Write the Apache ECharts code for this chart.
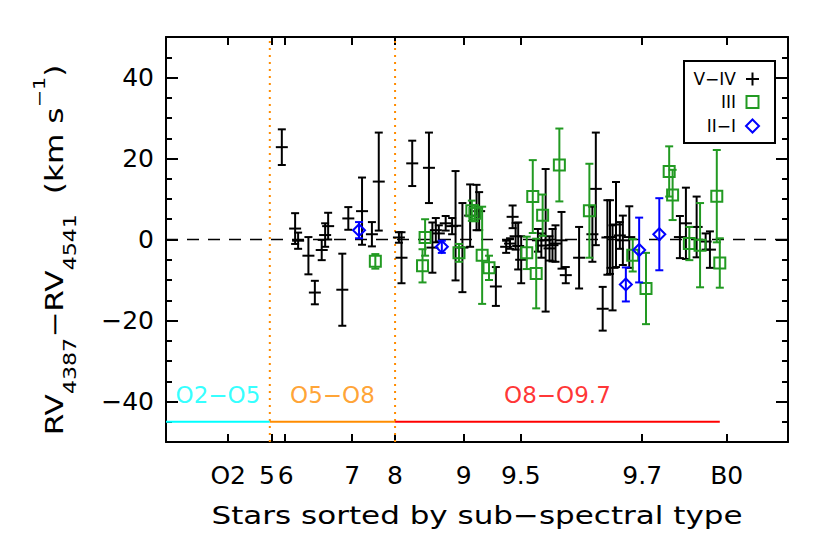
<!DOCTYPE html>
<html><head><meta charset="utf-8">
<script src="https://cdn.jsdelivr.net/npm/echarts@6/dist/echarts.min.js"></script>
<style>html,body{margin:0;padding:0;background:#fff}#c{width:830px;height:553px}</style>
</head><body><div id="c"></div>
<script>
// ---- axis / annotation data ----
const xMin = 0, xMax = 145;
const yMin = -50, yMax = 50;
const xTickValues = [14.5, 24.6, 27.7, 43.4, 53.4, 69.4, 82.7, 111.0, 130.7];
const xTickLabels = ['O2', '5', '6', '7', '8', '9', '9.5', '9.7', 'B0'];
const yTickValues = [-40, -20, 0, 20, 40];
const yMinorValues = [-50,-45,-40,-35,-30,-25,-20,-15,-10,-5,0,5,10,15,20,25,30,35,40,45,50];
const boundaries = [24.2, 53.4];
const rangeNames = ['O2−O5', 'O5−O8', 'O8−O9.7'];
const rangeStart = [0, 24.2, 53.4];
const rangeEnd = [24.2, 53.4, 129.1];
const rangeColors = ['#00ffff', '#ff8c00', '#ff0000'];
const rangeLineY = -45;
const rangeLabelY = -38.3;

// ---- V-IV stars (black +) ----
const vX   = [27.0,30.1,30.8,33.2,34.7,36.3,37.1,37.8,41.1,42.5,45.7,48.0,49.6,54.3,54.9,57.4,61.3,62.1,62.9,63.6,65.2,66.7,67.5,69.1,70.9,72.4,73.0,76.9,79.3,80.2,80.8,81.5,82.1,82.8,86.7,87.5,88.5,89.4,90.1,90.8,92.2,93.2,96.3,99.4,100.2,101.8,102.9,103.5,104.1,104.9,105.8,106.5,108.0,119.8,121.2,123.7,125.8,126.8];
const vY   = [22.8,2.7,-0.3,-4.0,-13.1,-2.6,1.1,3.3,-12.4,5.2,7.0,1.3,14.3,0.5,-4.5,18.8,17.7,-2.0,2.3,1.5,4.0,3.3,3.4,-2.0,5.9,7.9,7.0,-11.6,-1.8,-1.0,5.6,0.8,-1.6,-5.0,-0.2,-1.5,-0.2,-2.2,-1.4,-1.0,-0.2,-8.8,-4.5,1.3,12.5,-17.1,0.5,0.6,-7.0,3.7,1.0,-0.2,0.6,0.6,4.0,3.1,-0.5,-2.5];
const vErr = [4.4,3.8,2.0,4.6,2.9,2.5,2.9,3.3,8.9,2.8,8.3,3.0,12.1,1.3,6.3,5.6,8.7,6.2,3.0,2.0,1.8,2.0,13.5,11.0,7.7,5.6,4.7,4.8,1.5,1.3,2.8,3.3,5.8,5.8,2.8,3.0,17.6,3.0,4.0,4.5,7.0,2.0,7.6,6.8,13.9,5.4,9.2,9.1,10.5,10.5,3.3,6.1,7.6,5.2,8.8,7.5,2.0,4.5];

// ---- III stars (green squares) ----
const gX   = [48.8,59.8,60.4,68.3,71.3,72.0,73.7,75.3,84.1,85.5,86.3,87.8,91.7,98.7,108.8,111.9,117.3,118.1,122.0,124.5,128.4,129.1];
const gY   = [-5.4,-6.5,0.5,-3.3,7.1,6.5,-3.9,-7.0,-3.3,10.6,-8.4,6.0,18.4,7.1,-3.9,-12.1,16.8,11.0,-1.0,-1.4,10.7,-5.8];
const gErr = [1.8,4.1,4.5,2.2,2.5,2.0,12.0,3.0,4.0,9.0,8.6,5.1,9.0,11.6,4.0,8.8,6.2,6.2,4.1,10.4,11.4,6.1];

// ---- II-I stars (blue diamonds) ----
const bX   = [45.0,64.3,107.2,110.3,115.0];
const bY   = [2.3,-1.8,-11.1,-2.6,1.3];
const bErr = [2.0,1.5,4.2,8.0,8.9];

const FONT = 'DejaVu Sans';
const GREEN = '#229a22', BLUE = '#0000ff';

function errRender(kind, color) {
  return function (params, api) {
    const x = api.value(0), y = api.value(1), e = api.value(2);
    const c = api.coord([x, y]);
    const t = api.coord([x, y + e]);
    const b = api.coord([x, y - e]);
    const cap = 4, lw = 2;
    const st = { stroke: color, lineWidth: lw, fill: null };
    const ch = [
      { type: 'line', shape: { x1: c[0], y1: t[1], x2: c[0], y2: b[1] }, style: st },
      { type: 'line', shape: { x1: c[0] - cap, y1: t[1], x2: c[0] + cap, y2: t[1] }, style: st },
      { type: 'line', shape: { x1: c[0] - cap, y1: b[1], x2: c[0] + cap, y2: b[1] }, style: st }
    ];
    if (kind === 'plus') {
      ch.push({ type: 'line', shape: { x1: c[0] - 6, y1: c[1], x2: c[0] + 6, y2: c[1] }, style: st });
    } else if (kind === 'square') {
      ch.push({ type: 'rect', shape: { x: c[0] - 5.5, y: c[1] - 5.5, width: 11, height: 11 }, style: { stroke: color, lineWidth: lw, fill: 'none' } });
    } else {
      ch.push({ type: 'polygon', shape: { points: [[c[0], c[1] - 6], [c[0] + 6, c[1]], [c[0], c[1] + 6], [c[0] - 6, c[1]]] }, style: { stroke: color, lineWidth: lw, fill: 'none' } });
    }
    return { type: 'group', children: ch };
  };
}

const toData = (xs, ys, es) => xs.map((x, i) => [x, ys[i], es[i]]);

const series = [];
// zero line
series.push({ type: 'line', data: [[xMin, 0], [xMax, 0]], symbol: 'none', silent: true,
  lineStyle: { color: '#000', width: 1.5, type: [12, 9] }, z: 1 });
// boundaries
boundaries.forEach(b => series.push({ type: 'line', data: [[b, yMin], [b, yMax]], symbol: 'none', silent: true,
  lineStyle: { color: '#ff8c00', width: 2, type: [2, 5] }, z: 1 }));
// range segments and labels
rangeNames.forEach((n, i) => {
  series.push({ type: 'line', data: [[rangeStart[i], rangeLineY], [rangeEnd[i], rangeLineY]], symbol: 'none', silent: true,
    lineStyle: { color: rangeColors[i], width: 2, type: 'solid' }, z: 1 });
  series.push({ type: 'scatter', symbolSize: 0, silent: true,
    data: [{ value: [(rangeStart[i] + rangeEnd[i]) / 2, rangeLabelY], name: n }],
    label: { show: true, position: 'inside', formatter: n, color: rangeColors[i], fontSize: 23, fontFamily: FONT } });
});
series.push({ type: 'custom', renderItem: errRender('plus', '#000'), data: toData(vX, vY, vErr), encode: { x: 0, y: 1 }, z: 5 });
series.push({ type: 'custom', renderItem: errRender('square', GREEN), data: toData(gX, gY, gErr), encode: { x: 0, y: 1 }, z: 6 });
series.push({ type: 'custom', renderItem: errRender('diamond', BLUE), data: toData(bX, bY, bErr), encode: { x: 0, y: 1 }, z: 7 });

const axisLineStyle = { color: '#000', width: 2 };
function xAx(pos, labels) {
  return {
    type: 'value', min: xMin, max: xMax, position: pos,
    axisLine: { show: true, onZero: false, lineStyle: axisLineStyle },
    axisTick: { show: true, inside: true, length: 8, lineStyle: { color: '#000', width: 2 }, customValues: xTickValues },
    axisLabel: { show: labels, customValues: xTickValues, hideOverlap: false,
      formatter: v => {
        const i = xTickValues.findIndex(t => Math.abs(t - v) < 1e-6);
        if (i < 0) return '';
        const s = xTickLabels[i];
        if (s === '5') return '{l|' + s + '}';
        if (s === '6') return '{r|' + s + '}';
        return s;
      },
      rich: { l: { fontSize: 25, fontFamily: FONT, padding: [0, 9, 0, 0] }, r: { fontSize: 25, fontFamily: FONT, padding: [0, 0, 0, 2] } },
      fontSize: 25, color: '#000', margin: 21, fontFamily: FONT },
    splitLine: { show: false }
  };
}
function yAx(pos, major, labels) {
  const vals = major ? yTickValues : yMinorValues;
  return {
    type: 'value', min: yMin, max: yMax, position: pos, offset: 0,
    axisLine: { show: major, onZero: false, lineStyle: axisLineStyle },
    axisTick: { show: true, inside: true, length: major ? 12 : 6, lineStyle: { color: '#000', width: 2 }, customValues: vals },
    axisLabel: { show: labels, customValues: yTickValues, formatter: v => String(v).replace('-', '−'),
      fontSize: 25, color: '#000', margin: 12, fontFamily: FONT },
    splitLine: { show: false }
  };
}

const option = {
  animation: false,
  backgroundColor: '#fff',
  grid: { left: 166, right: 42, top: 37, bottom: 111, containLabel: false, outerBoundsMode: 'none' },
  xAxis: [xAx('bottom', true), xAx('top', false)],
  yAxis: [yAx('left', true, true), yAx('left', false, false), yAx('right', true, false), yAx('right', false, false)],
  series: series,
  graphic: [
    { type: 'text', x: 477, y: 516, scaleX: 1.24, style: { text: 'Stars sorted by sub−spectral type', font: '25px "DejaVu Sans"', fill: '#000', align: 'center', verticalAlign: 'middle' } },
    { type: 'text', x: 55, y: 250, rotation: Math.PI / 2, scaleX: 1.3,
      style: {
        text: '{m|RV}{s|4387}{m|−RV}{s|4541}{m|  (km s}{p|−1}{m|)}',
        align: 'center', verticalAlign: 'middle', fill: '#000',
        rich: {
          m: { fontSize: 24, fontFamily: FONT, lineHeight: 46, fill: '#000' },
          s: { fontSize: 17, fontFamily: FONT, lineHeight: 17, verticalAlign: 'bottom', fill: '#000' },
          p: { fontSize: 16, fontFamily: FONT, lineHeight: 48, verticalAlign: 'top', fill: '#000' }
        }
      } },
    // legend box
    { type: 'rect', shape: { x: 684, y: 61, width: 91, height: 82 }, style: { fill: '#fff', stroke: '#000', lineWidth: 2 }, z: 100 },
    { type: 'text', x: 736, y: 79, style: { text: 'V−IV', font: '17px "DejaVu Sans"', fill: '#000', align: 'right', verticalAlign: 'middle' }, z: 101 },
    { type: 'text', x: 736, y: 102, style: { text: 'III', font: '17px "DejaVu Sans"', fill: '#000', align: 'right', verticalAlign: 'middle' }, z: 101 },
    { type: 'text', x: 736, y: 126, style: { text: 'II−I', font: '17px "DejaVu Sans"', fill: '#000', align: 'right', verticalAlign: 'middle' }, z: 101 },
    { type: 'line', shape: { x1: 746, y1: 79, x2: 759, y2: 79 }, style: { stroke: '#000', lineWidth: 2 }, z: 101 },
    { type: 'line', shape: { x1: 752.5, y1: 72.5, x2: 752.5, y2: 85.5 }, style: { stroke: '#000', lineWidth: 2 }, z: 101 },
    { type: 'rect', shape: { x: 746.5, y: 96, width: 12, height: 12 }, style: { fill: 'none', stroke: GREEN, lineWidth: 2 }, z: 101 },
    { type: 'polygon', shape: { points: [[752.5, 119.5], [759, 126], [752.5, 132.5], [746, 126]] }, style: { fill: 'none', stroke: BLUE, lineWidth: 2 }, z: 101 }
  ]
};
const chart = echarts.init(document.getElementById('c'), null, { renderer: 'svg' });
chart.setOption(option);
</script>
</body></html>
